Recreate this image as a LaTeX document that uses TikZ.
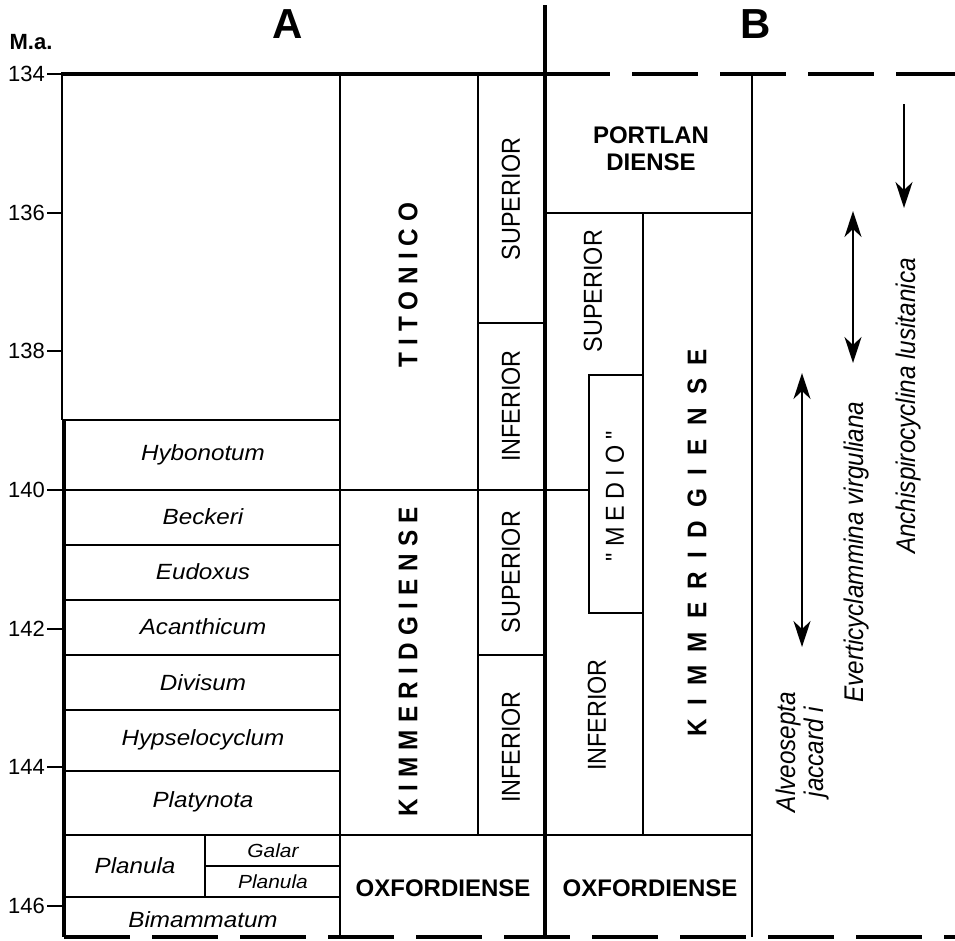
\documentclass[tikz,border=0pt]{standalone}
\usepackage{fontspec}
\setmainfont{Liberation Sans}
\newfontfamily\hf[FakeStretch=1.1]{Liberation Sans}
\newfontfamily\vf[FakeStretch=0.9]{Liberation Sans}
\usetikzlibrary{arrows.meta}
\newdimen\lsk
\makeatletter
\def\lsp#1{\lsp@b#1\relax}
\def\lsp@b#1{#1\lsp@a}
\def\lsp@a#1{\ifx#1\relax\else\kern\lsk#1\expandafter\lsp@a\fi}
\makeatother
\tikzset{
  zone/.style={font=\hf\itshape\fontsize{22}{26}\selectfont, inner sep=0},
  zsmall/.style={font=\hf\itshape\fontsize{19}{22}\selectfont, inner sep=0},
  stage/.style={font=\bfseries\fontsize{24}{27}\selectfont, inner sep=0, align=center},
  vlab/.style={rotate=90, font=\vf\fontsize{26}{30}\selectfont, inner sep=0},
  vbold/.style={rotate=90, font=\vf\bfseries\fontsize{27}{30}\selectfont, inner sep=0},
  species/.style={rotate=90, font=\vf\itshape\fontsize{27}{28}\selectfont, inner sep=0, align=center},
  ax/.style={font=\fontsize{22}{26}\selectfont, anchor=east, inner sep=0},
  hdr/.style={font=\bfseries\fontsize{22}{26}\selectfont, inner sep=0},
  big/.style={font=\bfseries\fontsize{42}{46}\selectfont, inner sep=0},
  ln/.style={line width=2pt},
  lnthin/.style={line width=1.6pt},
  heavy/.style={line width=3.5pt},
  ticks/.style={line width=2pt},
  dashln/.style={line width=3.5pt, dash pattern=on 66pt off 22pt},
  rangearrow/.style={line width=2pt, -{Stealth[length=26pt, width=17pt, inset=8pt]}},
  rangeboth/.style={line width=2pt, {Stealth[length=26pt, width=17pt, inset=8pt]}-{Stealth[length=26pt, width=17pt, inset=8pt]}}
}
\begin{document}
\begin{tikzpicture}[x=1pt, y=-1pt]
\useasboundingbox (0,0) rectangle (955,940);

% headers
\node[hdr] (ma) at (31,42) {M.a.};
\node[big] (hA) at (288,24) {A};
\node[big] (hB) at (756,24) {B};

% axis
\foreach \v/\k in {134/0,136/1,138/2,140/3,142/4,144/5,146/6}{
  \draw[ticks] (47,{74+138.67*\k}) -- (62,{74+138.67*\k});
  \node[ax] (ax\v) at (45,{74+138.67*\k}) {\v};
}
\draw[line width=2.5pt] (62,74) -- (62,420);
\draw[heavy] (64,420) -- (64,937);

% top and bottom lines
\draw[heavy] (61,74) -- (610,74);
\draw[dashln] (632,74) -- (955,74);
\draw[dashln] (64,937) -- (955,937);
\draw[heavy] (545,5) -- (545,937);

% column A grid
\draw[ln] (62,420) -- (340,420);
\draw[lnthin] (340,74) -- (340,937);
\draw[lnthin] (478,74) -- (478,835);
\draw[ln] (478,323) -- (545,323);
\draw[ln] (62,490) -- (588,490);
\foreach \yy in {545,600,655,710,771,897}{
  \draw[ln] (62,\yy) -- (340,\yy);
}
\draw[ln] (478,655) -- (545,655);
\draw[ln] (62,835) -- (752,835);
\draw[ln] (205,835) -- (205,897);
\draw[ln] (205,866) -- (340,866);

% column B grid
\draw[ln] (545,213) -- (752,213);
\draw[lnthin] (643,213) -- (643,835);
\draw[ln] (752,74) -- (752,937);
\draw[ln] (643,375) -- (589,375) -- (589,613) -- (643,613);

% zones
\node[zone] (hyb) at (203,455) {Hybonotum};
\node[zone] (bec) at (203,517) {Beckeri};
\node[zone] (eud) at (203,572) {Eudoxus};
\node[zone] (aca) at (203,627) {Acanthicum};
\node[zone] (div) at (203,683) {Divisum};
\node[zone] (hyp) at (203,740) {Hypselocyclum};
\node[zone] (pla) at (203,802) {Platynota};
\node[zone] (plan) at (135,866) {Planula};
\node[zsmall] (gal) at (273,851) {Galar};
\node[zsmall] (plan2) at (273,882) {Planula};
\node[zone] (bim) at (203,920) {Bimammatum};

% stages column A
\node[vbold] (tit) at (408,285) {\lsk=6.9pt \lsp{TITONICO}};
\node[vbold] (kimA) at (408,662) {\lsk=7.3pt \lsp{KIMMERIDGIENSE}};
\node[vlab] (supA1) at (511,199) {SUPERIOR};
\node[vlab] (infA1) at (511,406) {INFERIOR};
\node[vlab] (supA2) at (511,572) {SUPERIOR};
\node[vlab] (infA2) at (511,747) {INFERIOR};
\node[stage] (oxfA) at (443,888) {OXFORDIENSE};

% stages column B
\node[stage] (port) at (651,149) {PORTLAN\\DIENSE};
\node[vlab] (supB) at (593,291) {SUPERIOR};
\node[vlab] (medB) at (615,496) {\lsk=6.2pt \lsp{"MEDIO"}};
\node[vlab] (infB) at (597,715) {INFERIOR};
\node[vbold] (kimB) at (697,543) {\lsk=13.3pt \lsp{KIMMERIDGIENSE}};
\node[stage] (oxfB) at (650,888) {OXFORDIENSE};

% species ranges
\node[species] (anc) at (909,406) {Anchispirocyclina lusitanica};
\node[species] (eve) at (857,552) {Everticyclammina virguliana};
\node[species] (alv) at (803,752) {Alveosepta\\jaccard i};
\coordinate (ancT) at (904,104);
\coordinate (ancB) at (904,208);
\coordinate (eveT) at (853,211);
\coordinate (eveB) at (853,363);
\coordinate (alvT) at (802,373);
\coordinate (alvB) at (802,647);
\draw[rangearrow] (ancT) -- (ancB);
\draw[rangeboth] (eveT) -- (eveB);
\draw[rangeboth] (alvT) -- (alvB);
\end{tikzpicture}
\end{document}
